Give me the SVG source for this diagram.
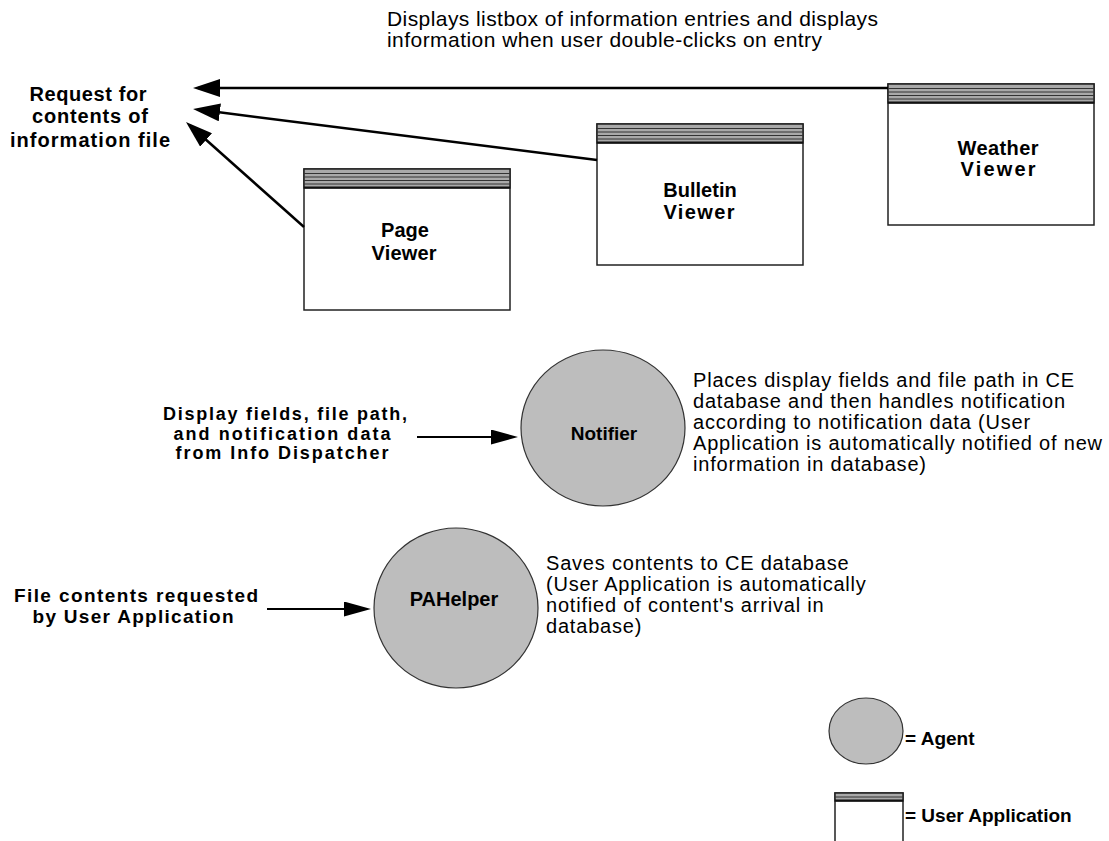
<svg xmlns="http://www.w3.org/2000/svg" xmlns:xlink="http://www.w3.org/1999/xlink" width="1109" height="841" viewBox="0 0 1109 841">
<style>
.b{font-family:"Liberation Sans",Arial,sans-serif;font-weight:bold;font-size:20px;fill:#000}
.r{font-family:"Liberation Sans",Arial,sans-serif;font-size:20px;fill:#000;letter-spacing:0.8px}
.c{text-anchor:middle}
.agent{fill:#bdbdbd;stroke:#333;stroke-width:1.2}
.conn{stroke:#000;stroke-width:2.5;fill:none}
</style>
<defs>
<marker id="ah" markerUnits="userSpaceOnUse" markerWidth="28" markerHeight="18" refX="22" refY="9" orient="auto">
<path d="M0,0 L27,9 L0,18 Z" fill="#000"/>
</marker>
<marker id="ahs" markerUnits="userSpaceOnUse" markerWidth="28" markerHeight="15" refX="22" refY="7.5" orient="auto">
<path d="M0,0 L27,7.5 L0,15 Z" fill="#000"/>
</marker>
<g id="appbox">
<rect x="0" y="0" width="206" height="141" fill="#fff" stroke="#222" stroke-width="1.5"/>
<rect x="0" y="0" width="206" height="19" fill="#a9a9a9" stroke="#222" stroke-width="1.5"/>
<path d="M0 4.5H206M0 8H206M0 11.5H206M0 15H206" stroke="#333" stroke-width="1"/>
<path d="M0 18.5H206" stroke="#111" stroke-width="2"/>
</g>
</defs>
<rect width="1109" height="841" fill="#fff"/>

<g id="caption">
<text class="r" x="387" y="26" style="font-size:21px;letter-spacing:0" textLength="491" lengthAdjust="spacing">Displays listbox of information entries and displays</text>
<text class="r" x="387" y="47" style="font-size:21px;letter-spacing:0" textLength="435" lengthAdjust="spacing">information when user double-clicks on entry</text>
</g>

<g id="request-label">
<text class="b c" x="88" y="101" textLength="117" lengthAdjust="spacing">Request for</text>
<text class="b c" x="90" y="123" textLength="116" lengthAdjust="spacing">contents of</text>
<text class="b c" x="90" y="147" textLength="160" lengthAdjust="spacing">information file</text>
</g>

<g id="page-viewer" transform="translate(304,169)">
<use xlink:href="#appbox" href="#appbox"/>
<text class="b c" x="101" y="68">Page</text>
<text class="b c" x="100" y="91" textLength="65" lengthAdjust="spacing">Viewer</text>
</g>

<g id="bulletin-viewer" transform="translate(597,124)">
<use xlink:href="#appbox" href="#appbox"/>
<text class="b c" x="103" y="73">Bulletin</text>
<text class="b c" x="102" y="95" textLength="71" lengthAdjust="spacing">Viewer</text>
</g>

<g id="weather-viewer" transform="translate(888,84)">
<use xlink:href="#appbox" href="#appbox"/>
<text class="b c" x="110" y="71" textLength="81" lengthAdjust="spacing">Weather</text>
<text class="b c" x="110" y="92" textLength="75" lengthAdjust="spacing">Viewer</text>
</g>

<g id="notifier-input">
<text class="b c" x="285" y="420" style="font-size:18px" textLength="244" lengthAdjust="spacing">Display fields, file path,</text>
<text class="b c" x="282" y="440" style="font-size:18px" textLength="217" lengthAdjust="spacing">and notification data</text>
<text class="b c" x="282" y="459" style="font-size:18px" textLength="213" lengthAdjust="spacing">from Info Dispatcher</text>
</g>

<g id="notifier">
<ellipse class="agent" cx="603" cy="428" rx="82" ry="78"/>
<text class="b c" x="604" y="440" style="font-size:19px">Notifier</text>
</g>

<g id="notifier-note">
<text class="r" x="693" y="387">Places display fields and file path in CE</text>
<text class="r" x="693" y="408">database and then handles notification</text>
<text class="r" x="693" y="429">according to notification data (User</text>
<text class="r" x="693" y="450">Application is automatically notified of new</text>
<text class="r" x="693" y="471">information in database)</text>
</g>

<g id="pahelper-input">
<text class="b c" x="136" y="602" style="font-size:19px" textLength="244" lengthAdjust="spacing">File contents requested</text>
<text class="b c" x="133" y="623" style="font-size:19px" textLength="201" lengthAdjust="spacing">by User Application</text>
</g>

<g id="pahelper">
<ellipse class="agent" cx="456" cy="608" rx="82" ry="80"/>
<text class="b c" x="454" y="606">PAHelper</text>
</g>

<g id="pahelper-note">
<text class="r" x="546" y="570">Saves contents to CE database</text>
<text class="r" x="546" y="591">(User Application is automatically</text>
<text class="r" x="546" y="612">notified of content's arrival in</text>
<text class="r" x="546" y="633">database)</text>
</g>

<g id="legend-agent">
<ellipse class="agent" cx="866" cy="731" rx="37" ry="33"/>
<text class="b" x="905" y="745" style="font-size:19px">= Agent</text>
</g>

<g id="legend-app">
<rect x="835" y="793" width="68" height="60" fill="#fff" stroke="#222" stroke-width="1.5"/>
<rect x="835" y="793" width="68" height="8" fill="#a9a9a9" stroke="#222" stroke-width="1.5"/>
<path d="M835 797H903" stroke="#333" stroke-width="1"/>
<path d="M835 800.5H903" stroke="#111" stroke-width="1.8"/>
<text class="b" x="905" y="822" style="font-size:19px">= User Application</text>
</g>

<g id="connectors">
<path class="conn" d="M888,88 L198,88" marker-end="url(#ah)"/>
<path class="conn" d="M597,160 L198,109.6" marker-end="url(#ah)"/>
<path class="conn" d="M304,227 L189.7,125.3" marker-end="url(#ah)"/>
<path class="conn" d="M417,437 L513,437" style="stroke-width:2.2" marker-end="url(#ahs)"/>
<path class="conn" d="M267,609 L366,609" style="stroke-width:2.2" marker-end="url(#ahs)"/>
</g>
</svg>
